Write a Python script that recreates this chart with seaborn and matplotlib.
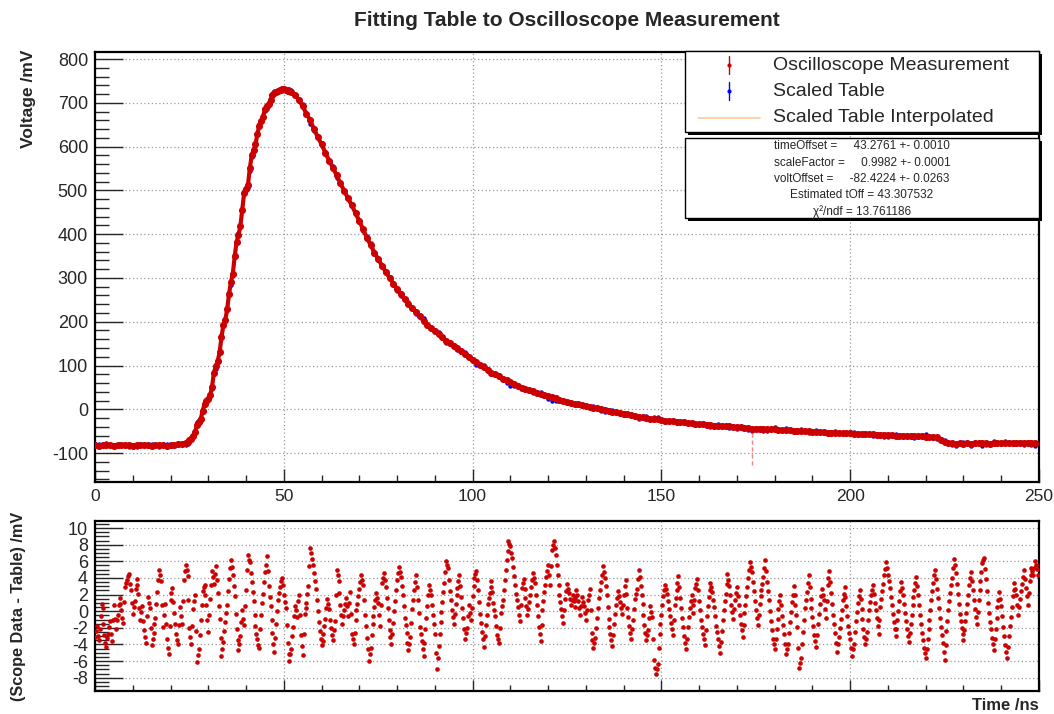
import numpy as np
import pandas as pd
import matplotlib
matplotlib.use("Agg")
import matplotlib.pyplot as plt
from matplotlib.lines import Line2D
from matplotlib.patches import Rectangle
from matplotlib.ticker import MultipleLocator
from matplotlib.transforms import Affine2D
import seaborn as sns

# ---------------- waveform samples (time in ns, voltage in mV) ----------------
baseline_t = np.arange(0, 24, 1.0)
baseline_mv = [-82, -83, -82, -81, -82, -83, -82, -82, -81, -82, -83, -82,
               -81, -82, -82, -83, -82, -81, -82, -83, -82, -81, -80, -79]

rise_t = np.arange(24, 52, 0.5)
rise_mv = [-76, -74, -71, -67, -62, -52, -36, -28, -22, -4, 12, 19, 24, 32,
           52, 84, 98, 110, 130, 165, 192, 204, 228, 264, 290, 310, 350, 382,
           398, 418, 455, 494, 504, 512, 550, 580, 592, 605, 628, 648, 658, 668,
           686, 693, 697, 707, 718, 722, 724, 727, 730, 732, 731, 730, 728, 726]

decay_t = np.arange(52, 250, 1.0)
decay_mv = [725, 718, 707, 692, 675, 660, 640, 622, 605, 586, 568, 552, 534, 516,
            499, 482, 466, 448, 430, 411, 392, 375, 358, 343, 328, 314, 300, 287,
            275, 263, 252, 241, 231, 222, 212, 202, 193, 186, 179, 172, 164, 157,
            151, 145, 139, 133, 127, 120, 112, 107, 101, 96, 89, 84, 80, 75, 70,
            66, 62, 57, 53, 49, 46, 44, 41, 38, 36, 33, 30, 27, 25, 22, 20, 17,
            15, 13, 11, 9, 7, 6, 4, 2, 0, -2, -3, -5, -6, -8, -10, -11, -13, -16,
            -17, -18, -19, -21, -23, -23, -24, -26, -27, -27, -28, -29, -30, -31,
            -31, -33, -34, -34, -35, -36, -37, -37, -38, -39, -39, -40, -41, -41,
            -42, -43, -45, -44, -44, -45, -45, -46, -46, -47, -47, -48, -48, -49,
            -49, -50, -50, -50, -51, -51, -52, -52, -53, -53, -53, -54, -54, -55,
            -55, -56, -56, -56, -57, -57, -57, -58, -58, -58, -59, -59, -60, -60,
            -60, -61, -61, -62, -62, -62, -63, -63, -63, -64, -69, -75, -77, -78,
            -79, -78, -79, -78, -79, -78, -78, -77, -78, -79, -78, -77, -78, -77,
            -77, -78, -77, -76, -77, -76, -76, -77]

# one sample with a large downward error (scope glitch)
glitch_t = 174.0
glitch_lo, glitch_hi = -127.0, -47.0

# ---------------- residuals: scope data minus scaled table (mV) ----------------
# samples on the 0.5 ns grid
resid_t_a = np.arange(0, 250, 0.5)
resid_mv_a = [
    -3.1, -1.8, -3.5, -0.6, 0.4, -2.9, -4.3, -2.7, -1.2, -3.6, 0.8, -2.2, -0.5, 1.6, 0.2, -1.4, 2.9, 3.8, 4.5, 2.6,
    -0.3, 1.2, 3.9, 2.1, -1.0, 0.6, -2.3, -3.8, 1.7, 0.4, -4.1, -2.6, -0.8, 2.3, 4.9, 3.6, -1.9, 0.9, -3.3, -5.2,
    1.4, 2.8, -0.2, -2.7, -4.0, 0.5, -1.6, 3.7, 5.6, 4.2, -2.0, -3.9, 0.3, 1.9, -6.1, -4.6, -1.1, 2.4, 3.1, 0.8,
    -2.5, 1.5, 4.8, 3.3, 5.4, 2.2, -0.9, -5.4, -3.7, -1.3, 0.7, 3.9, 6.1, 4.4, 1.8, -2.2, -4.7, -3.0, 0.1, -1.7,
    2.6, 6.7, 5.9, 3.5, 1.2, -1.8, -3.4, -4.4, -0.4, 2.1, 4.7, 6.6, 3.0, 0.6, -2.6, -4.9, -1.5, 1.3, 2.9, 4.0,
    1.9, 0.4, -3.8, -6.0, -4.5, -1.9, 0.6, -0.7, 2.0, -2.9, -5.3, -0.3, 1.0, 3.0, 7.6, 6.3, 4.6, 2.7, 0.0, -2.4,
    -4.1, -2.8, -0.9, 1.5, 0.3, -2.0, -3.5, -1.2, 4.9, 3.6, 0.8, -1.5, 0.2, 1.6, -0.6, 2.3, -2.7, -4.0, -1.0, 0.9,
    2.7, 4.3, 3.1, -0.4, -3.2, -6.0, -4.4, -1.6, 0.5, 2.2, 1.0, -1.8, 3.4, 4.6, 2.9, 0.4, -2.3, -3.9, -1.4, 1.2,
    3.8, 5.3, 4.1, 1.9, -0.8, -2.6, -4.7, -3.1, 0.3, 2.5, 4.4, 1.4, -1.9, -3.6, -5.4, -2.2, 0.6, 3.2, 2.0, -0.5,
    -2.8, -7.0, -4.2, -1.3, 1.1, 3.4, 6.0, 5.2, 2.4, 0.2, -1.6, 0.9, 2.8, 4.3, 1.7, -0.8, -3.3, -2.0, 0.7, -1.1,
    1.8, 4.0, 4.8, 2.6, -0.3, -2.5, -4.3, -1.7, 0.9, 2.2, 3.6, 1.0, -0.6, -2.9, -3.8, -0.2, 1.4, 3.7, 6.2, 8.4,
    7.8, 6.4, 4.2, 2.1, 0.5, -1.2, 2.8, 3.9, 1.6, -0.4, 1.1, 2.9, 4.6, 3.4, 0.7, -1.9, -3.6, 0.2, 2.3, 4.1,
    5.5, 3.2, 7.4, 8.5, 6.8, 4.4, 2.0, 0.3, -1.4, 1.5, 3.3, 2.2, 0.8, 1.9, 0.5, 2.6, 1.2, -0.4, 1.7, 0.6,
    -1.0, 1.3, 2.7, -2.6, -4.4, -3.2, -0.8, 1.6, 3.5, 5.4, 4.0, 1.9, -0.9, -2.8, -4.2, -1.5, 0.8, 2.4, 1.1, -0.3,
    2.0, 3.8, 0.4, -1.8, -3.4, -1.0, 1.5, 2.7, 5.0, 3.0, 0.9, -1.7, -3.5, -2.3, 0.6, -0.7, -5.9, -7.6, -6.3, -2.7,
    -0.5, 1.8, 3.2, 2.1, 0.3, -1.4, -2.9, 0.7, 2.5, 4.2, 1.6, -0.8, -3.0, -4.6, -1.9, 0.4, 1.9, -0.2, 2.8, 3.9,
    1.2, -1.0, -2.7, -4.1, -0.6, 1.7, 3.4, 2.3, 0.5, -1.8, -3.3, -5.0, -2.4, 0.2, 2.1, 4.5, 3.0, 0.8, -0.9, 1.4,
    2.9, 0.7, -1.5, -3.1, -0.2, 1.8, 4.0, 5.9, 4.7, 2.4, 0.1, -1.7, 0.9, 2.6, 4.1, 6.2, 3.5, 1.3, -1.2, -3.4,
    -4.6, -2.1, 0.3, 2.0, -0.6, -2.8, -5.2, -3.9, -1.3, 1.1, 3.0, 0.8, -1.9, -6.8, -5.6, -2.5, 0.4, 2.3, 4.4, 1.5,
    -0.7, -2.9, -4.3, -1.6, 0.9, 2.7, 1.4, -0.8, 3.1, 4.8, 2.2, -0.4, -2.6, -4.9, -3.1, -0.9, 1.3, 2.9, 0.6, -1.8,
    -3.4, -5.4, -3.9, -1.2, 1.0, 2.6, 0.3, -2.1, -4.0, -2.5, 0.2, 1.9, 3.2, 1.0, -0.8, -2.7, 0.5, 2.4, 4.3, 5.9,
    4.4, 2.8, 0.7, -1.3, -3.0, -1.1, 1.2, 3.5, 2.0, -0.2, -2.2, -3.7, -1.5, 0.8, 2.6, 4.1, 1.9, -0.5, -2.6, -4.4,
    -5.6, -3.3, -1.0, 1.3, 3.4, 5.0, 2.7, 0.4, -1.9, -3.8, -5.9, -2.4, 0.1, 2.2, 4.0, 6.3, 4.6, 2.1, -0.3, -2.0,
    -3.5, -1.2, 0.9, 3.1, 4.7, 2.5, 0.3, -1.6, 1.4, 3.6, 5.8, 6.4, 3.9, 1.0, -1.3, -3.2, -4.7, -2.2, 0.5, 2.3,
    0.6, -1.9, -4.1, -5.6, -3.0, -0.7, 1.8, 3.4, 2.0, -0.4, 1.5, 3.3, 4.9, 2.8, 0.8, 3.6, 5.2, 4.3, 6.0, 5.1,
]
# interleaved samples on the 0.25 + 0.5 ns grid
resid_t_b = np.arange(0.25, 250, 0.5)
resid_mv_b = [
    -2.4, -3.0, -2.2, 0.9, -1.5, -3.8, -3.2, -1.9, -2.8, -1.0, -0.9, -1.1, 0.7, 0.9, -0.8, 1.1, 3.4, 4.2, 3.3, 1.0,
    0.5, 2.7, 3.1, 0.4, -0.1, -1.2, -3.1, -0.6, 1.0, -2.0, -3.4, -1.6, 0.9, 3.8, 4.3, 0.7, -0.4, -1.6, -4.4, -1.8,
    2.2, 1.1, -1.6, -3.5, -1.7, -0.6, 1.2, 4.8, 4.9, 1.3, -3.1, -1.8, 1.2, -2.4, -5.3, -2.9, 0.8, 2.9, 1.9, -1.0,
    -0.4, 3.2, 4.1, 4.5, 3.8, 0.6, -3.2, -4.6, -2.4, -0.2, 2.4, 5.2, 5.3, 3.0, -0.3, -3.5, -3.9, -1.3, -0.9, 0.6,
    4.9, 6.2, 4.6, 2.3, -0.4, -2.7, -4.1, -2.2, 1.0, 3.5, 5.6, 4.8, 1.7, -1.1, -3.9, -3.2, 0.0, 2.2, 3.6, 3.1,
    1.1, -1.7, -5.1, -5.2, -3.0, -0.6, 0.1, 1.2, -0.5, -4.2, -2.8, 0.4, 2.1, 5.4, 7.0, 5.5, 3.6, 1.4, -1.3, -3.3,
    -3.6, -1.8, 0.4, 0.9, -1.0, -2.9, -2.3, 1.9, 4.3, 2.2, -0.4, -0.6, 0.9, 0.6, 1.0, -0.3, -3.4, -2.6, 0.1, 1.8,
    3.5, 3.7, 1.4, -1.8, -4.6, -5.2, -2.9, -0.6, 1.3, 1.6, -0.4, 0.8, 4.0, 3.8, 1.6, -1.0, -3.1, -2.7, 0.0, 2.5,
    4.6, 4.7, 3.0, 0.6, -1.7, -3.8, -3.9, -1.4, 1.4, 3.5, 2.9, -0.2, -2.8, -4.5, -3.8, -0.8, 1.9, 2.6, 0.7, -1.6,
    -5.0, -5.6, -2.7, -0.1, 2.3, 4.7, 5.5, 3.8, 1.3, -0.7, -0.3, 1.9, 3.6, 3.0, 0.4, -2.1, -2.6, -0.6, -0.2, 0.4,
    3.0, 4.5, 3.7, 1.1, -1.4, -3.4, -3.0, -0.4, 1.6, 2.9, 2.3, 0.2, -1.8, -3.3, -2.0, 0.6, 2.5, 5.0, 7.3, 8.1,
    7.0, 5.3, 3.1, 1.3, -0.4, 0.8, 3.4, 2.7, 0.6, 0.3, 2.0, 3.8, 4.0, 2.0, -0.6, -2.8, -1.7, 1.2, 3.2, 4.8,
    4.3, 5.4, 8.0, 7.6, 5.6, 3.1, 1.1, -0.6, 0.1, 2.4, 2.7, 1.5, 1.3, 1.2, 1.6, 1.9, 0.4, 0.6, 1.1, -0.2,
    0.2, 2.0, 0.1, -3.5, -3.8, -2.0, 0.4, 2.6, 4.4, 4.7, 3.0, 0.5, -1.9, -3.5, -2.9, -0.3, 1.6, 1.8, 0.4, 0.8,
    3.0, 2.1, -0.7, -2.6, -2.2, 0.3, 2.1, 3.9, 4.1, 1.9, -0.4, -2.6, -2.9, -0.8, -0.1, -3.3, -6.8, -7.0, -4.4, -1.6,
    0.7, 2.6, 2.7, 1.2, -0.6, -2.2, -1.1, 1.6, 3.4, 2.9, 0.4, -1.9, -3.8, -3.3, -0.7, 1.2, 0.8, 1.3, 3.3, 2.5,
    0.1, -1.9, -3.4, -2.3, 0.6, 2.5, 2.9, 1.4, -0.6, -2.5, -4.2, -3.7, -1.1, 1.2, 3.3, 3.8, 1.9, -0.1, 0.3, 2.2,
    1.8, -0.4, -2.3, -1.7, 0.8, 2.9, 5.0, 5.3, 3.5, 1.2, -0.8, -0.4, 1.8, 3.3, 5.2, 4.8, 2.4, 0.0, -2.3, -4.0,
    -3.3, -0.9, 1.2, 0.7, -1.7, -4.0, -4.5, -2.6, -0.1, 2.0, 1.9, -0.5, -4.4, -6.2, -4.0, -1.0, 1.4, 3.4, 2.9, 0.4,
    -1.8, -3.6, -2.9, -0.3, 1.8, 2.0, 0.3, 1.2, 4.0, 3.5, 0.9, -1.5, -3.8, -4.0, -2.0, 0.2, 2.1, 1.7, -0.6, -2.6,
    -4.4, -4.6, -2.5, -0.1, 1.8, 1.5, -0.9, -3.1, -3.3, -1.1, 1.1, 2.6, 2.1, 0.1, -1.8, -1.1, 1.5, 3.3, 5.1, 5.2,
    3.6, 1.7, -0.3, -2.2, -2.1, 0.0, 2.4, 2.8, 0.9, -1.2, -3.0, -2.6, -0.4, 1.7, 3.4, 3.0, 0.7, -1.6, -3.5, -5.0,
    -4.5, -2.2, 0.2, 2.4, 4.3, 3.9, 1.6, -0.8, -2.9, -4.9, -4.1, -1.2, 1.2, 3.1, 5.2, 5.5, 3.3, 0.9, -1.2, -2.8,
    -2.3, -0.2, 2.0, 4.0, 3.6, 1.4, -0.7, -0.1, 2.5, 4.7, 6.1, 5.1, 2.4, -0.2, -2.2, -4.0, -3.4, -0.8, 1.4, 1.5,
    -0.6, -3.0, -4.9, -4.3, -1.8, 0.5, 2.6, 2.7, 0.8, 0.5, 2.4, 4.1, 3.9, 1.8, 2.2, 4.4, 4.8, 5.2, 5.6, 4.4,
]

# ---------------- fit summary ----------------
fit_names = ["timeOffset", "scaleFactor", "voltOffset"]
fit_values = ["43.2761", "0.9982", "-82.4224"]
fit_errors = ["0.0010", "0.0001", "0.0263"]
est_toff = "43.307532"
chi2_ndf = "13.761186"

title = "Fitting Table to Oscilloscope Measurement"
series_labels = ["Oscilloscope Measurement", "Scaled Table", "Scaled Table Interpolated"]

# ---------------- assemble frames ----------------
scope = pd.DataFrame({
    "t": np.concatenate([baseline_t, rise_t, decay_t]),
    "mv": np.concatenate([baseline_mv, rise_mv, decay_mv]).astype(float),
})
resid_a = np.asarray(resid_mv_a, float)
resid = pd.DataFrame({
    "t": np.concatenate([resid_t_a, resid_t_b]),
    "mv": np.concatenate([resid_a, np.asarray(resid_mv_b, float)]),
}).sort_values("t")
# table = scope - residual at the same sample time
idx = np.rint(scope["t"].to_numpy() * 2).astype(int)
table = pd.DataFrame({"t": scope["t"], "mv": scope["mv"] - resid_a[idx]})

RED = "#cc0000"
BLUE = "#0000ff"
ORANGE = "#ffc896"

sns.set_theme(style="white")
plt.rcParams["font.family"] = ["Liberation Sans", "DejaVu Sans"]
plt.rcParams["axes.linewidth"] = 1.6
plt.rcParams["axes.edgecolor"] = "black"
plt.rcParams["axes.unicode_minus"] = False

W, H = 1054, 714
fig = plt.figure(figsize=(W / 100, H / 100), dpi=100)
fig.patch.set_facecolor("white")

def fig_rect(x0, y0, x1, y1):
    return [x0 / W, 1 - y1 / H, (x1 - x0) / W, (y1 - y0) / H]

ax = fig.add_axes(fig_rect(95, 52, 1039, 482))
axr = fig.add_axes(fig_rect(95, 521, 1039, 691))

grid_kw = dict(color="#9a9a9a", linestyle=(0, (1, 2)), linewidth=0.9)
YTICK_FS = 13
XTICK_FS = 12.5

# ---- upper panel: waveform ----
sns.lineplot(data=table, x="t", y="mv", ax=ax, color=ORANGE, lw=1.0, zorder=2, sort=True)
sns.scatterplot(data=table, x="t", y="mv", ax=ax, color=BLUE, s=10, linewidth=0, zorder=3)
sns.lineplot(data=scope, x="t", y="mv", ax=ax, color=RED, lw=3.0, zorder=4, sort=True)
sns.scatterplot(data=scope, x="t", y="mv", ax=ax, color=RED, s=26, linewidth=0, zorder=5)
ax.vlines(glitch_t, glitch_lo, glitch_hi, colors="#ff8080", linestyles=(0, (3, 2)), lw=1.0, zorder=3)

ax.set_xlim(0, 250)
ax.set_ylim(-166, 816)
ax.xaxis.set_major_locator(MultipleLocator(50))
ax.xaxis.set_minor_locator(MultipleLocator(10))
ax.yaxis.set_major_locator(MultipleLocator(100))
ax.yaxis.set_minor_locator(MultipleLocator(20))
ax.grid(True, which="major", **grid_kw)
ax.set_axisbelow(True)
ax.set_xlabel("")
ax.set_ylabel("")
ax.tick_params(axis="y", which="major", direction="in", length=20, width=1, labelsize=YTICK_FS, pad=5)
ax.tick_params(axis="y", which="minor", direction="in", length=10, width=1)
ax.tick_params(axis="x", which="major", direction="in", length=9.5, width=1, labelsize=XTICK_FS, pad=5)
ax.tick_params(axis="x", which="minor", direction="in", length=5, width=1)
ax.tick_params(left=True, bottom=True, which="both")

# ---- lower panel: residuals ----
sns.scatterplot(data=resid, x="t", y="mv", ax=axr, color=RED, s=11, linewidth=0, zorder=3)
axr.set_xlim(0, 250)
axr.set_ylim(-9.6, 10.85)
axr.xaxis.set_major_locator(MultipleLocator(50))
axr.xaxis.set_minor_locator(MultipleLocator(10))
axr.yaxis.set_minor_locator(MultipleLocator(0.5))
axr.set_yticks(np.arange(-8, 11, 2))
axr.set_yticklabels([str(v) for v in range(-8, 11, 2)])
axr.grid(True, which="major", **grid_kw)
axr.set_axisbelow(True)
axr.set_xlabel("")
axr.set_ylabel("")
axr.tick_params(axis="y", which="major", direction="in", length=20, width=1, labelsize=YTICK_FS, pad=5)
axr.tick_params(axis="y", which="minor", direction="in", length=10, width=1)
axr.tick_params(axis="x", which="major", direction="in", length=8, width=1, labelbottom=False)
axr.tick_params(axis="x", which="minor", direction="in", length=4.3, width=1)
axr.tick_params(left=True, bottom=True, which="both")

# ---- titles ----
fig.text(567 / W, 1 - 20 / H, title, ha="center", va="center", fontsize=15, fontweight="bold")
fig.text(29 / W, 1 - 50 / H, "Voltage /mV", rotation=90, ha="center", va="top",
         fontsize=12.5, fontweight="bold")
fig.text(19 / W, 1 - 512 / H, "(Scope Data - Table) /mV", rotation=90, ha="center", va="top",
         fontsize=11.7, fontweight="bold")
fig.text(1039 / W, 1 - 705 / H, "Time /ns", ha="right", va="center", fontsize=12, fontweight="bold")

# ---- legend and fit summary boxes (pixel coordinates, origin top-left) ----
px = Affine2D().scale(1 / W, -1 / H).translate(0, 1) + fig.transFigure

def box(x0, y0, x1, y1):
    fig.add_artist(Rectangle((x0 + 3, y0 + 3), x1 - x0, y1 - y0, transform=px,
                             facecolor="black", edgecolor="none", zorder=10))
    fig.add_artist(Rectangle((x0, y0), x1 - x0, y1 - y0, transform=px,
                             facecolor="white", edgecolor="black", lw=1.0, zorder=11))

box(685, 51, 1039, 132)
box(685, 138, 1039, 218)

rows_y = [65, 91, 118]
for yy, col in zip(rows_y[:2], [RED, BLUE]):
    fig.add_artist(Line2D([729, 729], [yy - 9, yy + 9], transform=px, color=col, lw=1.0, zorder=12))
    fig.add_artist(Line2D([729], [yy], transform=px, color=col, marker="o", ms=3, mew=0, zorder=12))
fig.add_artist(Line2D([698, 760], [rows_y[2], rows_y[2]], transform=px, color=ORANGE, lw=1.2, zorder=12))
for yy, lab in zip(rows_y, series_labels):
    fig.text(773 / W, 1 - yy / H, lab, ha="left", va="center", fontsize=14, zorder=12)

stat_lines = [f"{n} =     {v} +- {e}" for n, v, e in zip(fit_names, fit_values, fit_errors)]
stat_lines += [f"Estimated tOff = {est_toff}", f"χ²/ndf = {chi2_ndf}"]
for i, line in enumerate(stat_lines):
    fig.text(862 / W, 1 - (146 + 16.5 * i) / H, line, ha="center", va="center",
             fontsize=8.5, zorder=12)

fig.savefig("out.png", dpi=100, facecolor="white")
